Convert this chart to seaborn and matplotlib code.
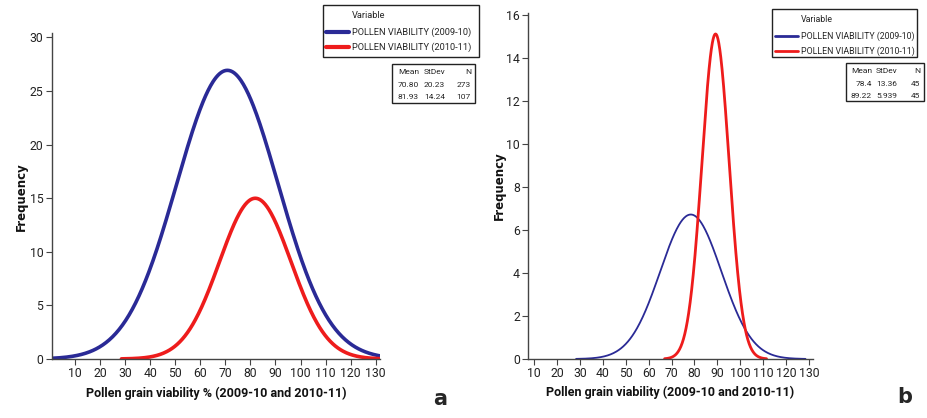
import numpy as np
import pandas as pd
import matplotlib
matplotlib.use("Agg")
import matplotlib.pyplot as plt
import seaborn as sns
from matplotlib.lines import Line2D
from matplotlib.patches import Rectangle

# ---- data (fitted normal curves, Minitab style) ----
series = ["POLLEN VIABILITY (2009-10)", "POLLEN VIABILITY (2010-11)"]
a_mean = [70.80, 81.93]
a_sd = [20.23, 14.24]
a_n = [273, 107]
a_table = [["70.80", "20.23", "273"], ["81.93", "14.24", "107"]]
b_mean = [78.4, 89.22]
b_sd = [13.36, 5.939]
b_n = [45, 45]
b_table = [["78.4", "13.36", "45"], ["89.22", "5.939", "45"]]
bin_width = 5
x_ticks = list(range(10, 131, 10))
a_yticks = list(range(0, 31, 5))
b_yticks = list(range(0, 17, 2))

sns.set_theme(style="white")
plt.rcParams["font.family"] = ["Roboto", "DejaVu Sans"]

colors = ["#2a2a96", "#ee1c1c"]

W, H = 928, 418
fig = plt.figure(figsize=(W / 100, H / 100), dpi=100)


def fx(px):
    return px / W


def fy(py):
    return 1 - py / H


def curves(means, sds, ns, xlim):
    rows = []
    for name, m, s, n in zip(series, means, sds, ns):
        lo = max(m - 3.75 * s, xlim[0])
        hi = min(m + 3.75 * s, xlim[1])
        xs = np.linspace(lo, hi, 400)
        ys = n * bin_width * np.exp(-0.5 * ((xs - m) / s) ** 2) / (s * np.sqrt(2 * np.pi))
        rows.append(pd.DataFrame({"x": xs, "y": ys, "Variable": name}))
    return pd.concat(rows, ignore_index=True)


def style_axes(ax, xlim, ylim, yticks):
    ax.set_xlim(*xlim)
    ax.set_ylim(*ylim)
    ax.set_xticks(x_ticks)
    ax.set_yticks(yticks)
    for sp in ["top", "right"]:
        ax.spines[sp].set_visible(False)
    for sp in ["left", "bottom"]:
        ax.spines[sp].set_color("#444444")
        ax.spines[sp].set_linewidth(1.0)
    ax.tick_params(axis="both", which="both", direction="out", length=4, width=0.8,
                   color="#444444", labelsize=8.8, labelcolor="#222222", pad=2,
                   left=True, bottom=True)
    ax.set_xlabel("")
    ax.set_ylabel("")
    leg = ax.get_legend()
    if leg:
        leg.remove()


# ---- panel a ----
a_xlim = (0.7, 131.7)
axa = fig.add_axes([fx(51.7), fy(359), fx(380 - 51.7), (359 - 33) / H])
da = curves(a_mean, a_sd, a_n, a_xlim)
sns.lineplot(data=da, x="x", y="y", hue="Variable", palette=colors, ax=axa,
             linewidth=2.6, legend=False, sort=False)
style_axes(axa, a_xlim, (0, 30.4), a_yticks)

# ---- panel b ----
b_xlim = (7.4, 131.8)
axb = fig.add_axes([fx(528.3), fy(359), fx(813 - 528.3), (359 - 13) / H])
db = curves(b_mean, b_sd, b_n, b_xlim)
for name, c, lw in zip(series, colors, [1.3, 2.0]):
    sns.lineplot(data=db[db["Variable"] == name], x="x", y="y", color=c, ax=axb,
                 linewidth=lw, legend=False, sort=False)
style_axes(axb, b_xlim, (0, 16.09), b_yticks)

# ---- labels ----
fig.text(fx(21), fy(197), "Frequency", rotation=90, ha="center", va="center",
         fontsize=8.5, fontweight="bold", color="#111111", family=["DejaVu Sans"])
fig.text(fx(499), fy(186), "Frequency", rotation=90, ha="center", va="center",
         fontsize=8.5, fontweight="bold", color="#111111", family=["DejaVu Sans"])
fig.text(fx(216), fy(393), "Pollen grain viability % (2009-10 and 2010-11)",
         ha="center", va="center", fontsize=9.0, fontweight="bold", color="#111111")
fig.text(fx(670), fy(392), "Pollen grain viability (2009-10 and 2010-11)",
         ha="center", va="center", fontsize=9.0, fontweight="bold", color="#111111")
fig.text(fx(440), fy(399), "a", ha="center", va="center", fontsize=15, fontweight="bold",
         family=["DejaVu Sans"])
fig.text(fx(905), fy(397), "b", ha="center", va="center", fontsize=15, fontweight="bold",
         family=["DejaVu Sans"])


# ---- legends & stat tables ----
def legend_box(x0, y0, x1, y1, lws, fs):
    fig.patches.append(Rectangle((fx(x0), fy(y1)), fx(x1 - x0), (y1 - y0) / H,
                                 transform=fig.transFigure, fill=False,
                                 edgecolor="#222222", linewidth=1.0))
    fig.text(fx(x0 + 29), fy(y0 + 11), "Variable", fontsize=fs, va="center", ha="left")
    for i, (name, c, lw) in enumerate(zip(series, colors, lws)):
        yy = y0 + 27 + i * 15
        fig.lines.append(Line2D([fx(x0 + 3), fx(x0 + 26)], [fy(yy), fy(yy)],
                                transform=fig.transFigure, color=c, linewidth=lw))
        fig.text(fx(x0 + 29), fy(yy), name, fontsize=fs, va="center", ha="left")


def stat_box(x0, y0, x1, y1, rows, fs, cols):
    fig.patches.append(Rectangle((fx(x0), fy(y1)), fx(x1 - x0), (y1 - y0) / H,
                                 transform=fig.transFigure, fill=False,
                                 edgecolor="#222222", linewidth=1.0))
    head = ["Mean", "StDev", "N"]
    for j, h in enumerate(head):
        fig.text(fx(cols[j]), fy(y0 + 8), h, fontsize=fs, ha="right", va="center")
    for i, r in enumerate(rows):
        for j, v in enumerate(r):
            fig.text(fx(cols[j]), fy(y0 + 21 + i * 12), v, fontsize=fs, ha="right", va="center")


legend_box(323, 5, 479, 57, [3, 3], 6.7)
stat_box(392, 64, 475, 103, a_table, 6.0, [419, 445, 471])
legend_box(772, 9, 917, 57, [2, 2], 6.3)
stat_box(846, 63, 924, 101, b_table, 6.0, [872, 897, 920])

fig.savefig("out.png", dpi=100)
